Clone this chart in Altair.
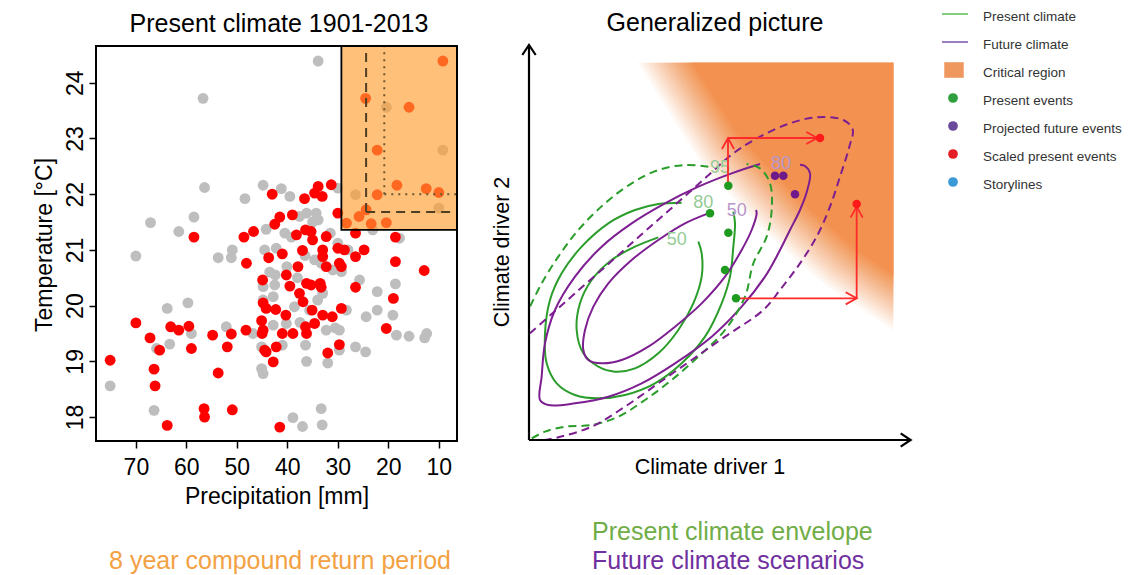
import altair as alt
import numpy as np
import pandas as pd

FONT = "Liberation Sans"

# ---------------- Left panel data: Present climate 1901-2013 ----------------
precip_ticks = [70, 60, 50, 40, 30, 20, 10]
temp_ticks = [18, 19, 20, 21, 22, 23, 24]
precip_domain = [6.4, 77.9]
temp_domain = [17.57, 24.66]

# observed (grey) events: (precipitation mm, temperature C)
gray_events = [
    (20.4, 23.56), (9.2, 22.79), (26.5, 21.99), (10.0, 21.75), (30.0, 22.11),
    (33.9, 24.39), (56.7, 23.72), (56.4, 22.12), (44.8, 22.16), (48.4, 21.92), (41.2, 22.10),
    (39.5, 21.96), (67.1, 21.49), (58.5, 21.59), (61.5, 21.33), (70.0, 20.89), (53.7, 20.86),
    (50.9, 21.0), (51.1, 20.86), (44.2, 21.37), (44.5, 21.0), (42.2, 21.03), (42.4, 20.55),
    (40.1, 20.70), (39.2, 21.23), (36.2, 21.66), (34.3, 21.66), (33.9, 21.54), (34.6, 20.82),
    (33.3, 20.76), (31.0, 20.64), (29.3, 20.61), (30.0, 21.12), (25.7, 20.46), (44.8, 20.34),
    (42.5, 20.37), (42.8, 20.16), (44.8, 20.1), (38.6, 19.98), (35.6, 19.92), (33.0, 20.22),
    (28.3, 19.92), (24.4, 19.80), (22.2, 19.92), (22.2, 20.25), (18.6, 20.39), (19.1, 19.83),
    (18.4, 19.47), (15.9, 19.45), (12.8, 19.42), (12.4, 19.50), (29.7, 19.56), (29.7, 19.2),
    (26.5, 19.26), (24.5, 19.17), (32.3, 19.56), (32.0, 18.97), (36.4, 19.29), (36.2, 19.0),
    (41.0, 19.29), (45.1, 19.26), (45.1, 18.87), (44.8, 18.78), (42.8, 19.65), (40.2, 19.68),
    (46.8, 19.50), (52.1, 19.62), (59.0, 19.50), (59.7, 20.05), (63.8, 19.95), (63.3, 19.31),
    (65.9, 19.23), (75.1, 18.56), (66.4, 18.12), (38.9, 17.99), (37.0, 17.83), (33.3, 18.15),
    (33.1, 17.86), (17.8, 21.21), (23.1, 21.36), (37.6, 21.6), (28.0, 21.0), (35.0, 21.5),
    (36.5, 20.9), (38.0, 20.5), (34.0, 20.1), (31.5, 21.3), (40.5, 21.3), (43.5, 20.6),
    (37.5, 19.7), (30.5, 19.6),
]

# scaled (red) events
red_events = [
    (9.2, 24.39), (24.5, 23.72), (15.9, 23.56), (22.2, 22.79), (18.3, 22.16), (12.5, 22.10),
    (10.0, 22.03), (22.2, 21.99), (24.4, 21.72), (25.8, 21.60), (28.3, 21.48), (23.4, 21.47),
    (20.4, 21.49),
    (75.1, 19.02), (70.0, 19.69), (67.2, 19.42), (65.3, 19.20), (66.4, 18.86), (66.2, 18.56),
    (63.8, 17.85), (63.1, 19.62), (61.5, 19.56), (59.5, 19.63), (59.0, 19.23), (58.5, 21.23),
    (56.5, 18.15), (56.4, 18.00), (54.8, 19.47), (53.7, 18.79), (51.9, 19.26), (51.1, 19.49),
    (50.9, 18.13), (48.6, 21.23), (48.1, 20.76), (48.2, 19.56), (46.7, 21.33), (45.1, 19.73),
    (44.8, 19.56), (45.0, 19.50), (44.9, 20.46), (44.8, 20.05), (44.2, 19.95), (44.5, 19.20),
    (44.2, 19.17), (42.8, 18.99), (43.7, 20.86), (43.0, 22.0), (42.5, 21.46), (41.5, 21.59),
    (42.3, 19.93), (42.2, 19.26), (41.5, 17.82), (41.0, 20.93), (40.2, 20.55), (39.5, 20.35),
    (40.3, 19.83), (41.0, 19.50), (38.9, 19.50), (39.0, 21.63), (38.2, 21.27), (37.9, 20.70),
    (37.6, 20.22), (36.9, 20.07), (37.0, 20.99), (36.6, 21.92), (36.4, 21.36), (36.2, 20.40),
    (35.3, 20.37), (35.1, 19.92), (36.4, 19.62), (36.2, 19.50), (35.3, 21.33), (35.0, 21.18),
    (34.6, 22.02), (33.9, 22.14), (33.1, 21.96), (33.5, 20.40), (33.3, 20.33), (34.6, 19.68),
    (33.0, 21.0), (33.0, 20.88), (32.3, 21.24), (33.0, 19.83), (32.3, 20.7), (32.0, 19.15),
    (31.3, 22.17), (31.1, 19.80), (30.0, 21.66), (30.0, 21.03), (29.7, 20.76), (29.3, 20.70),
    (29.3, 19.95), (29.7, 19.30), (28.7, 21.0), (26.5, 21.30), (26.5, 20.88), (26.5, 20.33),
    (24.8, 21.0), (18.6, 21.23), (18.6, 20.79), (19.0, 20.13), (20.4, 19.59), (12.9, 20.63),
]

# critical (8-year compound return period) box and the marginal thresholds
crit_box = [(29.3, 21.36, 6.4, 24.66)]
dashed_thresholds = [(24.4, 21.68, 24.4, 24.66), (24.4, 21.68, 7.6, 21.68)]
dotted_thresholds = [(20.8, 22.0, 20.8, 24.66), (20.8, 22.0, 6.4, 22.0)]

# ---------------- Right panel data: Generalized picture (driver units) ----------------
driver1_domain = [117, 1266]
driver2_domain = [15, 1200]   # increasing downward
driver_axes = [(117, 1200, 1262, 1200), (117, 1200, 117, 15)]
driver_axis_heads = [(1262, 1200, "right"), (117, 15, "up")]

critical_x = [440, 525, 690, 879, 1050, 1185, 1320]
critical_y = [-65, 69, 330, 531, 681, 771, 861]
critical_top = 68
critical_right = 1210

contours = {
    "g50": [(505, 592), (435, 620), (365, 660), (305, 720), (270, 790), (260, 870), (280, 940),
            (325, 980), (375, 995), (435, 985), (505, 940), (565, 870), (610, 790), (635, 710),
            (635, 640), (625, 605)],
    "g80": [(575, 488), (505, 492), (435, 510), (355, 550), (275, 620), (215, 700), (180, 780),
            (165, 880), (170, 970), (200, 1030), (255, 1065), (325, 1075), (405, 1065), (495, 1030),
            (575, 970), (645, 890), (695, 790), (720, 710), (730, 620), (735, 550), (730, 515)],
    "p50": [(655, 520), (585, 550), (505, 600), (425, 660), (355, 730), (310, 800), (285, 870),
            (280, 930), (295, 960), (335, 970), (395, 960), (475, 920), (555, 860), (635, 790),
            (705, 710), (755, 630), (785, 570), (800, 520), (798, 510)],
    "p80": [(810, 372), (725, 400), (625, 440), (525, 490), (425, 550), (335, 620), (255, 710),
            (195, 810), (165, 910), (155, 1010), (150, 1080), (175, 1095), (255, 1090), (355, 1070),
            (455, 1030), (555, 970), (665, 890), (755, 800), (825, 710), (865, 640), (900, 570),
            (930, 510), (952, 450), (960, 400), (945, 378), (930, 374)],
    "g95a": [(655, 380), (585, 375), (505, 390), (425, 430), (345, 490), (265, 570), (205, 650),
             (155, 730), (120, 800)],
    "g95b": [(125, 1195), (165, 1175), (225, 1160), (305, 1155), (385, 1130), (465, 1080),
             (545, 1020), (625, 950), (705, 870), (765, 770), (790, 670), (830, 590), (845, 510),
             (840, 430), (810, 385), (770, 372)],
    "p95": [(120, 880), (185, 822), (255, 760), (355, 672), (455, 583), (555, 495), (655, 406),
            (730, 340), (810, 290), (900, 250), (980, 232), (1060, 240), (1088, 268), (1078, 320),
            (1050, 410), (1020, 500), (980, 590), (930, 670), (870, 750), (820, 810), (705, 890),
            (605, 960), (505, 1030), (405, 1100), (305, 1160), (205, 1192), (165, 1200)],
}
contour_labels = [("95", 690, 385, "g"), ("80", 640, 490, "g"), ("50", 560, 600, "g"),
                  ("80", 873, 372, "p"), ("50", 740, 512, "p")]

present_events = [(715, 437), (660, 520), (715, 578), (705, 690), (738, 775)]
projected_events = [(855, 407), (880, 407), (915, 463)]
scaled_events = [(990, 294), (1100, 492)]
shift_segments = [(714, 437, 714, 294), (714, 294, 982, 294),
                  (738, 775, 1100, 775), (1100, 775, 1100, 500)]
shift_heads = [(714, 294, "up"), (982, 294, "right"), (1100, 775, "right"), (1100, 500, "up")]

# ---------------- Legend / text ----------------
legend_labels = ["Present climate", "Future climate", "Critical region", "Present events",
                 "Projected future events", "Scaled present events", "Storylines"]
legend_kinds = ["line", "line", "box", "dot", "dot", "dot", "dot"]
legend_colors = ["#80CF80", "#9A7EBE", "#EE975F", "#2E9E3E", "#6A4A9A", "#E41E26", "#3A9AD8"]

left_title = "Present climate 1901-2013"
right_title = "Generalized picture"
x_left_title = "Precipitation [mm]"
y_left_title = "Temperature [°C]"
x_right_title = "Climate driver 1"
y_right_title = "Climate driver 2"
caption_left = "8 year compound return period"
caption_green = "Present climate envelope"
caption_purple = "Future climate scenarios"

# ---------------- scales (layout) ----------------
H = 567
LX = alt.Scale(domain=precip_domain, range=[449, 88], zero=False, nice=False)
LY = alt.Scale(domain=temp_domain, range=[433, 38], zero=False, nice=False)
RX = alt.Scale(domain=driver1_domain, range=[521, 904], zero=False, nice=False)
RY = alt.Scale(domain=driver2_domain, range=[37, 432], zero=False, nice=False)
LEGY = alt.Scale(domain=[0, 6], range=[6, 174], zero=False, nice=False)

RIGHT_HEAD = "M-1,-0.55L0,0L-1,0.55"
UP_HEAD = "M-0.55,1L0,0L0.55,1"
RIGHT_HEAD_AX = "M-1,-0.67L0,0L-1,0.67"
UP_HEAD_AX = "M-0.67,1L0,0L0.67,1"


def lx(f, axis=None):
    return alt.X(f"{f}:Q", scale=LX, axis=axis)


def ly(f, axis=None):
    return alt.Y(f"{f}:Q", scale=LY, axis=axis)


def rx(f):
    return alt.X(f"{f}:Q", scale=RX, axis=None)


def ry(f):
    return alt.Y(f"{f}:Q", scale=RY, axis=None)


layers = []

# ---- left panel ----
gray_df = pd.DataFrame(gray_events, columns=["precip", "temp"])
red_df = pd.DataFrame(red_events, columns=["precip", "temp"])

x_axis_left = alt.Axis(values=precip_ticks, orient="bottom", offset=433 - H, domain=False,
                       grid=False, tickSize=7, tickWidth=1.5, tickColor="black", labelFont=FONT,
                       labelFontSize=23, labelColor="black", labelPadding=8, labelFlush=False,
                       labelOverlap=False, title=None)
y_axis_left = alt.Axis(values=temp_ticks, orient="left", offset=-88, domain=False, grid=False,
                       tickSize=7, tickWidth=1.5, tickColor="black", labelFont=FONT,
                       labelFontSize=23, labelColor="black", labelPadding=7, labelAngle=-90,
                       labelAlign="center", labelBaseline="alphabetic", labelFlush=False,
                       labelOverlap=False, title=None)

layers.append(alt.Chart(gray_df).mark_circle(size=118, opacity=1, color="#BEBEBE").encode(
    x=lx("precip", x_axis_left), y=ly("temp", y_axis_left)))
layers.append(alt.Chart(red_df).mark_circle(size=118, opacity=1, color="#FF0000").encode(
    x=lx("precip"), y=ly("temp")))

box_df = pd.DataFrame(crit_box, columns=["p0", "t0", "p1", "t1"])
layers.append(alt.Chart(box_df).mark_rect(fill="#FFA032", fillOpacity=0.65, stroke="black",
                                          strokeWidth=1.8).encode(
    x=lx("p0"), x2="p1", y=ly("t0"), y2="t1"))

dash_df = pd.DataFrame(dashed_thresholds, columns=["p0", "t0", "p1", "t1"])
layers.append(alt.Chart(dash_df).mark_rule(color="#4E3E22", strokeWidth=2, strokeDash=[9, 6]).encode(
    x=lx("p0"), x2="p1", y=ly("t0"), y2="t1"))
dot_df = pd.DataFrame(dotted_thresholds, columns=["p0", "t0", "p1", "t1"])
layers.append(alt.Chart(dot_df).mark_rule(color="#6A5530", strokeWidth=2, strokeDash=[2, 5]).encode(
    x=lx("p0"), x2="p1", y=ly("t0"), y2="t1"))

frame_df = pd.DataFrame({"p0": [precip_domain[0]], "p1": [precip_domain[1]],
                         "t0": [temp_domain[0]], "t1": [temp_domain[1]]})
layers.append(alt.Chart(frame_df).mark_rect(fillOpacity=0, stroke="black", strokeWidth=2).encode(
    x=lx("p0"), x2="p1", y=ly("t0"), y2="t1"))

# ---- right panel: critical region with soft edge ----
N = 16
xs = np.arange(400, critical_right + 1, 3)
rows = []
cxs = np.array(critical_x, dtype=float)
cys = np.array(critical_y, dtype=float)
for k in range(N):
    t = -70 + 140 * k / (N - 1)
    yk = np.interp(xs, cxs + t * 0.707, cys - t * 0.707)
    yk = np.maximum(yk, critical_top)
    for xv, yv in zip(xs, yk):
        rows.append({"k": k, "x": float(xv), "y": float(yv), "y2": critical_top,
                     "op": 1.0 / (N - k)})
crit_df = pd.DataFrame(rows)
layers.append(alt.Chart(crit_df).mark_area(color="#F39250", interpolate="linear").encode(
    x=rx("x"), y=ry("y"), y2="y2", detail="k:N", opacity=alt.Opacity("op:Q", scale=None)))

# contours
crow = []
for name, pts in contours.items():
    for i, (xv, yv) in enumerate(pts):
        crow.append({"c": name, "i": i, "x": xv, "y": yv})
cont_df = pd.DataFrame(crow)
contour_styles = [
    (["g50", "g80"], "#2A9D2A", None),
    (["p50", "p80"], "#7D1E91", None),
    (["g95a", "g95b"], "#2A9D2A", [8, 5]),
    (["p95"], "#7D1E91", [8, 5]),
]
for names, col, dash in contour_styles:
    kw = dict(color=col, strokeWidth=2, interpolate="catmull-rom")
    if dash:
        kw["strokeDash"] = dash
    layers.append(alt.Chart(cont_df[cont_df.c.isin(names)]).mark_line(**kw).encode(
        x=rx("x"), y=ry("y"), detail="c:N", order="i:Q"))

lab_df = pd.DataFrame(contour_labels, columns=["lab", "x", "y", "g"])
for g, col in [("g", "#95CB95"), ("p", "#B897C8")]:
    layers.append(alt.Chart(lab_df[lab_df.g == g]).mark_text(
        font=FONT, fontSize=18, color=col, align="center", baseline="middle").encode(
        x=rx("x"), y=ry("y"), text="lab:N"))

# driver axes
ax_df = pd.DataFrame(driver_axes, columns=["x0", "y0", "x1", "y1"])
layers.append(alt.Chart(ax_df).mark_rule(color="black", strokeWidth=2.2).encode(
    x=rx("x0"), x2="x1", y=ry("y0"), y2="y1"))
axh_df = pd.DataFrame(driver_axis_heads, columns=["x", "y", "d"])
for d, shape in [("right", RIGHT_HEAD_AX), ("up", UP_HEAD_AX)]:
    layers.append(alt.Chart(axh_df[axh_df.d == d]).mark_point(
        shape=shape, filled=False, color="black", strokeWidth=2.2, size=400, opacity=1).encode(
        x=rx("x"), y=ry("y")))

# shift arrows
seg_df = pd.DataFrame(shift_segments, columns=["x0", "y0", "x1", "y1"])
layers.append(alt.Chart(seg_df).mark_rule(color="#FF2A2A", strokeWidth=1.8).encode(
    x=rx("x0"), x2="x1", y=ry("y0"), y2="y1"))
head_df = pd.DataFrame(shift_heads, columns=["x", "y", "d"])
for d, shape in [("right", RIGHT_HEAD), ("up", UP_HEAD)]:
    layers.append(alt.Chart(head_df[head_df.d == d]).mark_point(
        shape=shape, filled=False, color="#FF2A2A", strokeWidth=1.8, size=484, opacity=1).encode(
        x=rx("x"), y=ry("y")))

for pts, col in [(present_events, "#1E9A1E"), (projected_events, "#6E1A8A"),
                 (scaled_events, "#FF1A1A")]:
    layers.append(alt.Chart(pd.DataFrame(pts, columns=["x", "y"])).mark_circle(
        size=72, opacity=1, color=col).encode(x=rx("x"), y=ry("y")))

# ---- legend ----
leg_df = pd.DataFrame({"label": legend_labels, "kind": legend_kinds, "col": legend_colors,
                       "row": list(range(len(legend_labels)))})
leg_y = alt.Y("row:Q", scale=LEGY, axis=None)
leg_c = alt.Color("col:N", scale=None)
layers.append(alt.Chart(leg_df[leg_df.kind == "line"]).mark_rule(strokeWidth=2).encode(
    x=alt.value(934), x2=alt.value(960), y=leg_y, color=leg_c))
layers.append(alt.Chart(leg_df[leg_df.kind == "box"]).mark_point(
    shape="M-1,-0.8L1,-0.8L1,0.8L-1,0.8Z", filled=True, size=380, opacity=1).encode(
    x=alt.value(946), y=leg_y, color=leg_c))
layers.append(alt.Chart(leg_df[leg_df.kind == "dot"]).mark_circle(size=95, opacity=1).encode(
    x=alt.value(945), y=leg_y, color=leg_c))
layers.append(alt.Chart(leg_df).mark_text(
    font=FONT, fontSize=13.5, color="#333333", align="left", baseline="middle", dy=3).encode(
    x=alt.value(975), y=leg_y, text="label:N"))


# ---- titles and captions ----
def txt(label, x, y, size, color="black", angle=0, align="center"):
    kw = dict(font=FONT, fontSize=size, color=color, align=align, baseline="middle")
    if angle:
        kw["angle"] = angle
    return alt.Chart(pd.DataFrame({"t": [label]})).mark_text(**kw).encode(
        x=alt.value(x), y=alt.value(y), text="t:N")


layers += [
    txt(left_title, 271, 16, 25),
    txt(right_title, 707, 15, 25),
    txt(x_left_title, 269, 489, 23),
    txt(y_left_title, 37, 237, 23, angle=270),
    txt(x_right_title, 702, 460, 21.5),
    txt(y_right_title, 495, 244, 21.5, angle=270),
    txt(caption_left, 272, 553, 25, color="#F3A143"),
    txt(caption_green, 584, 524, 25, color="#70AD47", align="left"),
    txt(caption_purple, 584, 553, 25, color="#7030A0", align="left"),
]

chart = alt.layer(*layers).resolve_scale(x="independent", y="independent").properties(
    width=1117, height=H, autosize=alt.AutoSizeParams(type="none"), padding=0
).configure(font=FONT, background="white").configure_view(strokeWidth=0)

chart.save("out.html", embed_options={"renderer": "svg", "actions": False})
